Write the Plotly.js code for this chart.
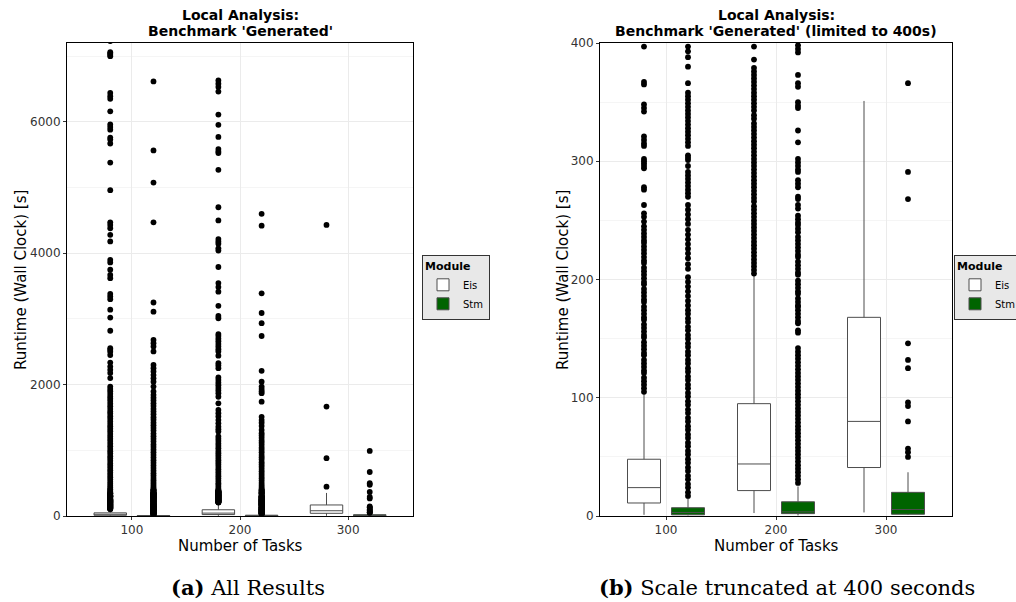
<!DOCTYPE html>
<html><head><meta charset="utf-8">
<script src="https://cdn.plot.ly/plotly-3.0.1.min.js"></script>
<style>html,body{margin:0;padding:0;background:#fff}#chart{width:1016px;height:602px}</style>
</head><body><div id="chart"></div>
<script>
// ---------- data ----------
const tasks = [100, 200, 300];
const tickLabels = ['100', '200', '300'];
const moduleNames = ['Eis', 'Stm'];

// box statistics per number of tasks
const eisLower  = [1, 2.5, 3];
const eisQ1     = [11, 21.5, 41];
const eisMedian = [24, 44, 80];
const eisQ3     = [48, 95, 168];
const eisUpper  = [103, 203, 351];

const stmLower  = [0.5, 0.5, 1];
const stmQ1     = [1, 2, 1.5];
const stmMedian = [3, 3.5, 5.5];
const stmQ3     = [7, 12, 20];
const stmUpper  = [16, 25, 37];

// outliers (seconds)
const eis100Out = [7230, 7060, 7040, 7020, 7000, 6440, 6390, 6350, 6160, 5960, 5920, 5880, 5760, 5730, 5670, 5380, 4960,
  4470, 4430, 4380, 4280, 4180, 3900, 3860, 3750, 3670, 3620, 3380, 3340, 3300, 3140, 3020, 2820, 2555, 2530, 2500, 2450,
  2335, 2275, 2225, 2175, 2100, 1970, 1935, 1900, 1860, 1820, 1785, 1750, 1710, 1670, 1630, 1590, 1560, 1520, 1480, 1440,
  1400, 1365, 1330, 1290, 1250, 1210, 1175, 1140, 1100, 1060, 1020, 985, 950, 910, 875, 840, 800, 765, 730, 695, 660, 625,
  590, 555, 520, 490, 460, 430, 405, 397, 367, 365, 348, 345, 342, 321, 318, 315, 313, 302, 300, 298, 296, 294, 278, 276,
  263, 256, 253, 249, 245, 242, 239, 236, 233, 231, 228, 225, 222, 219, 216, 214, 210, 207, 204, 201, 198, 196, 192, 189,
  186, 183, 181, 177, 174, 171, 168, 166, 162, 159, 156, 153, 151, 147, 144, 141, 138, 136, 132, 129, 126, 123, 121, 117,
  114, 111, 108, 105];
const stm100Out = [6615, 5565, 5075, 4470, 3250, 3110, 2680, 2630, 2580, 2505, 2300, 2250, 2200, 2145, 2095, 2045, 1970,
  1895, 1845, 1800, 1760, 1715, 1675, 1630, 1590, 1550, 1505, 1465, 1420, 1380, 1340, 1300, 1255, 1215, 1175, 1135, 1090,
  1050, 1010, 970, 930, 890, 850, 810, 770, 730, 690, 650, 615, 580, 545, 510, 480, 450, 425, 405, 397, 393, 388, 380, 366,
  358, 355, 352, 349, 346, 343, 340, 337, 334, 331, 328, 325, 322, 319, 316, 313, 305, 303, 301, 296, 291, 288, 285, 282,
  279, 276, 273, 270, 263, 259, 255, 251, 247, 242, 238, 234, 230, 226, 222, 218, 213, 209, 202, 198, 194, 190, 186, 182,
  178, 174, 171, 167, 164, 160, 157, 153, 150, 146, 143, 139, 136, 132, 129, 125, 122, 118, 115, 111, 108, 104, 101, 97,
  94, 90, 87, 83, 80, 76, 73, 69, 66, 62, 59, 55, 52, 48, 45, 41, 38, 34, 31, 27, 24, 20, 17];
const eis200Out = [6630, 6580, 6530, 6460, 6110, 5955, 5770, 5585, 5550, 5525, 5270, 4700, 4500, 4215, 4180, 4145, 4075,
  4040, 3790, 3545, 3485, 3415, 3200, 3045, 3010, 2770, 2740, 2700, 2660, 2620, 2580, 2540, 2505, 2440, 2325, 2290, 2250,
  2110, 2070, 2030, 1990, 1950, 1910, 1870, 1815, 1715, 1615, 1565, 1515, 1460, 1410, 1360, 1320, 1285, 1210, 1175, 1140,
  1100, 1065, 1030, 990, 955, 920, 885, 850, 815, 780, 745, 710, 675, 640, 605, 570, 535, 500, 470, 440, 410, 397, 386,
  379, 376, 373, 370, 367, 364, 361, 358, 355, 352, 349, 346, 343, 339, 336, 332, 329, 326, 323, 320, 317, 314, 311, 308,
  305, 302, 299, 296, 293, 290, 287, 284, 281, 278, 275, 272, 269, 266, 262, 259, 256, 253, 250, 247, 244, 241, 238, 235,
  232, 229, 226, 223, 220, 217, 214, 211, 208, 205];
const stm200Out = [4600, 4420, 3390, 3090, 2935, 2740, 2210, 2045, 1970, 1935, 1900, 1870, 1740, 1510, 1460, 1420, 1370,
  1310, 1260, 1225, 1190, 1150, 1115, 1080, 1040, 1005, 970, 930, 895, 860, 820, 785, 750, 715, 680, 645, 610, 575, 540,
  505, 475, 445, 420, 398, 395, 392, 373, 366, 363, 350, 347, 345, 326, 316, 302, 299, 296, 293, 291, 284, 281, 278, 270,
  268, 263, 260, 254, 251, 248, 246, 243, 240, 236, 233, 230, 227, 224, 221, 219, 215, 212, 209, 206, 204, 199, 196, 193,
  190, 188, 184, 181, 178, 177, 174, 171, 168, 165, 163, 157, 155, 142, 139, 136, 133, 130, 127, 124, 121, 118, 115, 112,
  109, 106, 103, 100, 97, 94, 91, 88, 85, 82, 79, 76, 73, 70, 67, 64, 61, 58, 55, 52, 49, 46, 43, 40, 37, 34, 31, 28];
const eis300Out = [4430, 1665, 880, 446];
const stm300Out = [990, 670, 500, 475, 366, 291, 268, 146, 132, 125, 96, 93, 80, 57, 54, 50];

// ---------- styling ----------
const DODGE = 20, BOXW = 30;
const eisFill = '#ffffff', stmFill = '#006400', boxLine = '#4d4d4d';
const SANS = 'DejaVu Sans';

const eisOut = [eis100Out, eis200Out, eis300Out];
const stmOut = [stm100Out, stm200Out, stm300Out];

function outlierTrace(groups, sign, xa, ya) {
  const xs = [], ys = [];
  groups.forEach((vals, i) => vals.forEach(v => { xs.push(tasks[i] + sign * DODGE); ys.push(v); }));
  return {type: 'scatter', mode: 'markers', x: xs, y: ys, xaxis: xa, yaxis: ya, showlegend: false,
          marker: {color: '#000', size: 5.8, line: {width: 0}}, hoverinfo: 'y'};
}
function boxTrace(name, sign, lo, q1, med, q3, up, fill, xa, ya, leg) {
  return {type: 'box', name: name, x: tasks.map(t => t + sign * DODGE),
          lowerfence: lo, q1: q1, median: med, q3: q3, upperfence: up,
          width: BOXW, whiskerwidth: 0, boxpoints: false, fillcolor: fill,
          line: {color: boxLine, width: 1}, xaxis: xa, yaxis: ya, legend: leg};
}

const traces = [];
[['x', 'y', 'legend'], ['x2', 'y2', 'legend2']].forEach(([xa, ya, leg]) => {
  traces.push(boxTrace(moduleNames[0], -1, eisLower, eisQ1, eisMedian, eisQ3, eisUpper, eisFill, xa, ya, leg));
  traces.push(boxTrace(moduleNames[1], 1, stmLower, stmQ1, stmMedian, stmQ3, stmUpper, stmFill, xa, ya, leg));
  traces.push(outlierTrace(eisOut, -1, xa, ya));
  traces.push(outlierTrace(stmOut, 1, xa, ya));
});

const W = 1016, H = 602;
const px = v => v / W, py = v => 1 - v / H;

function xAxis(l, r, anchor) {
  return {domain: [px(l), px(r)], range: [40, 360], anchor: anchor, tickmode: 'array', tickvals: tasks, ticktext: tickLabels,
    showline: true, mirror: true, linecolor: '#000', linewidth: 1, ticks: 'outside', ticklen: 3, tickcolor: '#333',
    showgrid: true, gridcolor: '#ebebeb', gridwidth: 1, zeroline: false, tickfont: {family: SANS, size: 12, color: '#333'}};
}
function yAxis(max, dt, anchor) {
  return {domain: [py(516), py(43)], range: [0, max], anchor: anchor, tick0: 0, dtick: dt,
    minor: {dtick: dt / 2, showgrid: true, gridcolor: '#f5f5f5', gridwidth: 1},
    showline: true, mirror: true, linecolor: '#000', linewidth: 1, ticks: 'outside', ticklen: 3, tickcolor: '#333',
    showgrid: true, gridcolor: '#ebebeb', gridwidth: 1, zeroline: false, tickfont: {family: SANS, size: 12, color: '#333'}};
}
function legendAt(xpix) {
  return {x: px(xpix), y: py(255), xanchor: 'left', yanchor: 'top', bgcolor: '#e8e8e8', bordercolor: '#333', borderwidth: 1,
    title: {text: '<b>Module</b>', font: {family: SANS, size: 11, color: '#000'}},
    font: {family: SANS, size: 10, color: '#000'}, itemwidth: 30, tracegroupgap: 0};
}
function ann(text, xc, yc, size, extra) {
  return Object.assign({text: text, x: px(xc), y: py(yc), xref: 'paper', yref: 'paper', showarrow: false,
    xanchor: 'center', yanchor: 'middle', font: {family: SANS, size: size, color: '#000'}}, extra || {});
}
function captionAnn(label, text, xc) {
  return {text: '<b>' + label + '</b> ' + text, x: px(xc), y: py(587), xref: 'paper', yref: 'paper', showarrow: false,
    xanchor: 'center', yanchor: 'middle', font: {family: 'DejaVu Serif', size: 21, color: '#000'}};
}

const layout = {
  width: W, height: H, margin: {l: 0, r: 0, t: 0, b: 0, pad: 0, autoexpand: false},
  paper_bgcolor: '#fff', plot_bgcolor: '#fff', boxmode: 'overlay',
  xaxis: xAxis(67, 413, 'y'), yaxis: yAxis(7200, 2000, 'x'),
  xaxis2: xAxis(600, 952, 'y2'), yaxis2: yAxis(400, 100, 'x2'),
  legend: legendAt(422), legend2: legendAt(954),
  annotations: [
    ann('<b>Local Analysis:</b>', 240, 15, 14), ann("<b>Benchmark 'Generated'</b>", 240, 31, 14),
    ann('<b>Local Analysis:</b>', 776, 15, 14), ann("<b>Benchmark 'Generated' (limited to 400s)</b>", 776, 31, 14),
    ann('Number of Tasks', 240, 546, 15), ann('Number of Tasks', 776, 546, 15),
    ann('Runtime (Wall Clock) [s]', 21, 280, 15, {textangle: -90}),
    ann('Runtime (Wall Clock) [s]', 563, 280, 15, {textangle: -90}),
    captionAnn('(a)', 'All Results', 248), captionAnn('(b)', 'Scale truncated at 400 seconds', 787)
  ]
};
Plotly.newPlot('chart', traces, layout, {displayModeBar: false, staticPlot: true});
</script></body></html>
